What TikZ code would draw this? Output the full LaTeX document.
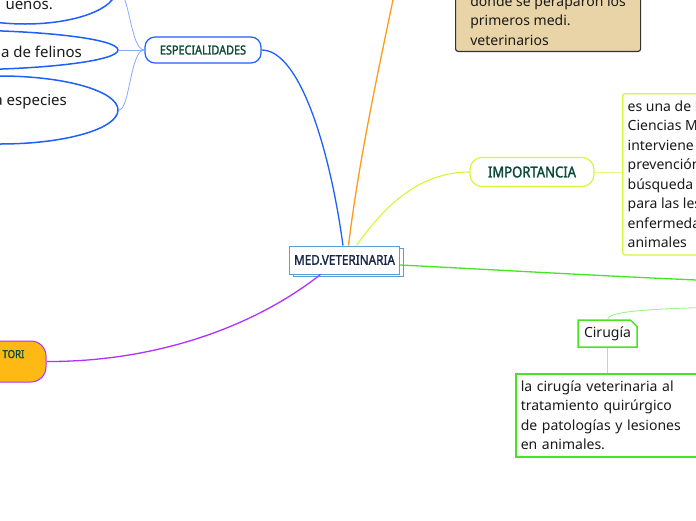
\documentclass[tikz,border=0pt]{standalone}
\usepackage{fontspec}
\setmainfont{Noto Sans}
\newfontfamily\titlefont{Noto Sans}[FakeBold=1.6, FakeStretch=0.87]
\usetikzlibrary{shapes.geometric,shapes.misc,shadows}
\definecolor{bluemain}{HTML}{1F5FFF}
\definecolor{bluelight}{HTML}{8AAAFF}
\definecolor{titlegreen}{HTML}{0B4A38}
\definecolor{medblue}{HTML}{5AA0D8}
\definecolor{navy}{HTML}{1A2A4A}
\definecolor{orangeline}{HTML}{FF9A1A}
\definecolor{tanfill}{HTML}{E8D4A6}
\definecolor{tanborder}{HTML}{333333}
\definecolor{yellowgreen}{HTML}{D8F53A}
\definecolor{yglight}{HTML}{E4F880}
\definecolor{greenmain}{HTML}{44E622}
\definecolor{greenlight}{HTML}{A0F090}
\definecolor{purpleline}{HTML}{B030FF}
\definecolor{torifill}{HTML}{FFB914}
\definecolor{bodytext}{HTML}{1A1A1A}
\begin{document}
\begin{tikzpicture}[x=1pt,y=-1pt,
  body/.style={font=\fontsize{14}{19.5}\selectfont, text=bodytext},
  elltext/.style={font=\fontsize{15}{20}\selectfont, text=bodytext, inner sep=0pt, anchor=base east},
  ell/.style={ellipse, draw=bluemain, line width=1.5pt, inner sep=0pt},
  subline/.style={draw=bluelight, line width=0.8pt},
  topicbox/.style={rounded corners=10pt, line width=1.2pt, fill=white, inner sep=0pt,
    font=\titlefont\fontsize{12.5}{14}\selectfont, text=titlegreen},
  textbox/.style={body, draw, fill=white, line width=1.3pt, rounded corners=2.5pt,
    align=left, inner xsep=5pt, inner ysep=7pt},
]
\useasboundingbox (0,0) rectangle (696,520);
\clip (0,0) rectangle (696,520);

% ellipses (left, cut by the frame)
\node[ell, minimum width=182pt, minimum height=68pt] (e1) at (25,-10) {};
\node[ell, minimum width=336pt, minimum height=40pt] (e2) at (-50,50) {};
\node[ell, minimum width=236pt, minimum height=68pt] (e3) at (0,110) {};
\node[elltext] (t1) at (53,9) {ueños.};
\node[elltext] (t2) at (82,57) {a de felinos};
\node[elltext] (t3) at (67,105) {a especies};

% ESPECIALIDADES
\node[topicbox, draw=bluemain, minimum width=116pt, minimum height=26pt] (esp) at (203,50) {ESPECIALIDADES};
\draw[subline] (esp.west) -- (e2.east);
\draw[subline] (esp.west) .. controls (130,50) and (130,-10) .. (e1.east);
\draw[subline] (esp.west) .. controls (130,50) and (130,110) .. (e3.east);

% central node
\node[draw=medblue, fill=white, line width=1pt, minimum width=110pt, minimum height=28pt, inner sep=0pt,
  copy shadow={shadow xshift=3.5pt, shadow yshift=-2.5pt, draw=medblue, fill=white},
  font=\titlefont\fontsize{13.5}{15}\selectfont, text=navy] (medvet) at (344.5,260) {MED.VETERINARIA};

% history (top, cut)
\node[textbox, draw=tanborder, fill=tanfill, line width=1.2pt, inner ysep=6pt, anchor=south west,
  minimum width=185pt] (hist) at (455,52) {donde se peraparon los\\primeros medi.\\veterinarios};
\coordinate (histtop) at (396,-15);
\draw[orangeline, line width=1.3pt] ([xshift=4pt]medvet.north) .. controls (360,150) and (385,40) .. (histtop);

% especialidades link
\draw[bluemain, line width=1.3pt] ([xshift=-1.5pt]medvet.north) .. controls (330,150) and (300,50) .. (esp.east);

% IMPORTANCIA
\node[topicbox, draw=yellowgreen, minimum width=124pt, minimum height=29pt, rounded corners=12pt,
  font=\titlefont\fontsize{15}{17}\selectfont] (imp) at (532,172) {IMPORTANCIA};
\draw[yellowgreen, line width=1.1pt] ([xshift=12pt]medvet.north) .. controls (385,205) and (420,172) .. (imp.west);
\node[textbox, draw=yellowgreen, anchor=north west, inner ysep=7pt] (imptext) at (622,93)
  {es una de las\\Ciencias Médicas\\interviene en\\prevención y\\búsqueda de\\para las lesiones\\enfermedades\\animales};
\draw[yglight, line width=0.8pt] (imp.east) -- (imptext.west |- imp.east);

% green branch
\coordinate (greenend) at (720,281);
\draw[greenmain, line width=1.3pt] ([yshift=-5pt]medvet.east) .. controls (500,270) and (600,276) .. (greenend);
\coordinate (cirparent) at (720,307);
\node[chamfered rectangle, chamfered rectangle corners=north east, chamfered rectangle xsep=3pt,
  draw=greenmain, fill=white, line width=1.5pt, minimum width=59pt, minimum height=27pt, inner sep=0pt,
  body] (cir) at (607.5,333.5) {Cirugía};
\draw[greenlight, line width=0.9pt] (cir.north) .. controls (609,312) and (640,309) .. (cirparent);
\node[textbox, draw=greenmain, rounded corners=0pt, line width=1.5pt, anchor=north west, text width=172pt] (cirtext) at (515,373)
  {la cirugía veterinaria al\\tratamiento quirúrgico\\de patologías y lesiones\\en animales.};
\draw[greenlight, line width=0.9pt] (cir.south) -- (cirtext.north -| cir.south);

% TORI
\node[draw=purpleline, fill=torifill, line width=1pt, rounded corners=15pt, minimum width=110pt, minimum height=41pt] (tori) at (-9,361.5) {};
\node[anchor=base east, inner sep=0pt, font=\titlefont\fontsize{11}{13}\selectfont, text=titlegreen] (toritext) at (24.5,358) {TORI};
\draw[purpleline, line width=1.3pt] ([xshift=-24pt]medvet.south) .. controls (250,330) and (150,362) .. (tori.east);
\end{tikzpicture}
\end{document}
